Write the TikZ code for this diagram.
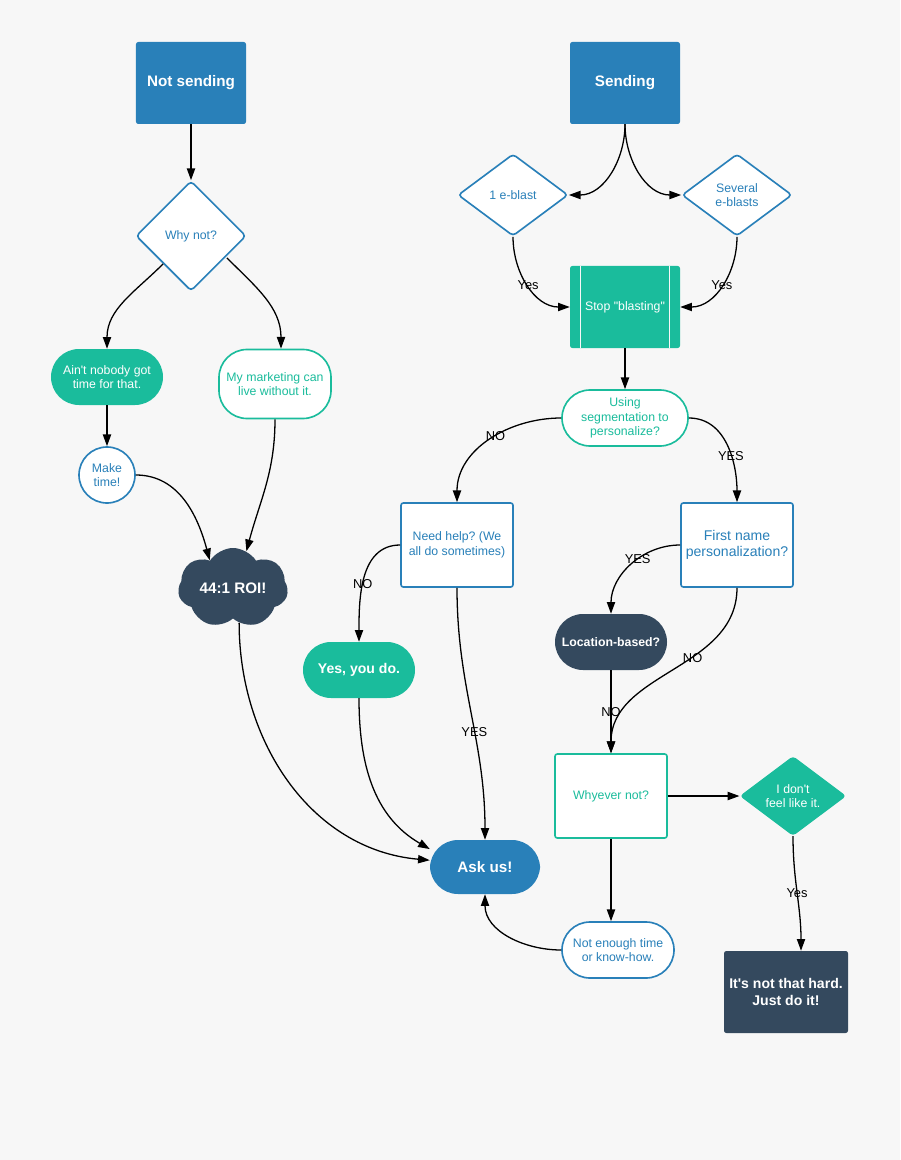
\documentclass[tikz,border=0pt]{standalone}
\usepackage{fontspec}
\setmainfont{Liberation Sans}[Ligatures=TeXOff]
\usetikzlibrary{shapes.geometric,shapes.symbols,arrows.meta}
\definecolor{lcblue}{HTML}{2980B9}
\definecolor{lcteal}{HTML}{1ABC9C}
\definecolor{lcdark}{HTML}{34495E}
\definecolor{lcbg}{HTML}{F7F7F7}
\frenchspacing

\begin{document}
\begin{tikzpicture}[x=0.03cm,y=-0.03cm,
  every node/.style={align=center, font=\fontsize{10.5}{12.6}\selectfont},
  heading/.style={font=\fontsize{13}{15.6}\selectfont\bfseries},
  squarebox/.style={rectangle, rounded corners=2pt, minimum width=3.3cm, minimum height=2.46cm},
  pill/.style={rectangle, rounded corners=0.84cm, minimum width=3.36cm, minimum height=1.68cm},
  decision/.style={diamond, rounded corners=3pt, inner sep=0pt, minimum width=3.3cm},
  boxfill/.style={fill=#1, text=white},
  boxline/.style={draw=#1, fill=white, text=#1, line width=1.4pt},
  flow/.style={-{Triangle[length=10pt,width=7pt]}, line width=1.1pt},
  lbl/.style={font=\fontsize{11}{13}\selectfont, text=black, inner sep=1pt}]
  \fill[lcbg] (0,0) rectangle (900,1160);

  \node[squarebox, boxfill=lcblue, heading] (notsend) at (191,83) {Not sending};
  \node[squarebox, boxfill=lcblue, heading] (send) at (625,83) {Sending};
  \node[decision, boxline=lcblue, minimum height=3.3cm] (whynot) at (191,236) {Why not?};
  \node[decision, boxline=lcblue, minimum height=2.46cm] (one) at (513,195) {1 e-blast};
  \node[decision, boxline=lcblue, minimum height=2.46cm] (several) at (737,195) {Several\\e-blasts};
  \node[squarebox, boxfill=lcteal] (stop) at (625,307) {Stop "blasting"};
  \draw[lcbg, line width=1.2pt] ([xshift=0.33cm]stop.north west) -- ([xshift=0.33cm]stop.south west)
    ([xshift=-0.33cm]stop.north east) -- ([xshift=-0.33cm]stop.south east);
  \node[pill, boxline=lcteal, minimum width=3.78cm] (seg) at (625,418) {Using\\segmentation to\\personalize?};
  \node[pill, boxfill=lcteal] (nobody) at (107,377) {Ain't nobody got\\time for that.};
  \node[pill, boxline=lcteal, minimum height=2.07cm] (mkt) at (275,384) {My marketing can\\live without it.};
  \node[circle, boxline=lcblue, minimum size=1.68cm, inner sep=0pt] (make) at (107,475) {Make\\time!};
  \node[cloud, cloud puffs=7, cloud puff arc=115, cloud ignores aspect, fill=lcdark, text=white, heading,
    minimum width=3.3cm, minimum height=2.4cm] (roi) at (233,588) {44:1 ROI!};
  \node[squarebox, boxline=lcblue, minimum width=3.36cm, minimum height=2.52cm] (needhelp) at (457,545) {Need help? (We\\all do sometimes)};
  \node[squarebox, boxline=lcblue, minimum width=3.36cm, minimum height=2.52cm, font=\fontsize{12}{14}\selectfont] (firstname) at (737,545) {First name\\personalization?};
  \node[pill, boxfill=lcdark, font=\fontsize{10.5}{12.6}\selectfont\bfseries] (location) at (611,642) {Location-based?};
  \node[pill, boxfill=lcteal, font=\fontsize{12}{14}\selectfont\bfseries] (yesdo) at (359,670) {Yes, you do.};
  \node[squarebox, boxline=lcteal, minimum width=3.36cm, minimum height=2.52cm] (whyever) at (611,796) {Whyever not?};
  \node[decision, boxfill=lcteal, minimum width=3.2cm, minimum height=2.4cm] (dont) at (793,796) {I don't\\feel like it.};
  \node[pill, boxfill=lcblue, heading, minimum width=3.3cm, minimum height=1.62cm] (ask) at (485,867) {Ask us!};
  \node[pill, boxline=lcblue] (notenough) at (618,950) {Not enough time\\or know-how.};
  \node[squarebox, boxfill=lcdark, font=\fontsize{12}{14}\selectfont\bfseries, minimum width=3.72cm] (hard) at (786,992) {It's not that hard.\\Just do it!};

  \draw[flow] (notsend) -- (whynot);
  \draw[flow] (whynot.south west) to[out=-135,in=90] (nobody.north);
  \draw[flow] ([shift={(0.24cm,0.18cm)}]whynot.south east) to[out=-45,in=90] ([xshift=0.18cm]mkt.north);
  \draw[flow] (nobody) -- (make);
  \draw[flow] (make.east) to[out=0,in=105] (roi.130);
  \draw[flow] (mkt.south) to[out=-90,in=75] (roi.70);
  \draw[flow] (roi.-80) to[out=-90,in=175] (ask.173);
  \draw[flow] (send.south) to[out=-90,in=0] (one.east);
  \draw[flow] (send.south) to[out=-90,in=180] (several.west);
  \draw[flow] (one.south) to[out=-90,in=180] node[lbl] (yes1) {Yes} (stop.west);
  \draw[flow] (several.south) to[out=-90,in=0] node[lbl] (yes2) {Yes} (stop.east);
  \draw[flow] (stop) -- (seg);
  \draw[flow] (seg.west) to[out=180,in=90] node[lbl,pos=0.45] (no1) {NO} (needhelp.north);
  \draw[flow] (seg.east) to[out=0,in=90] node[lbl,pos=0.6] (yes3) {YES} (firstname.north);
  \draw[flow] (needhelp.west) to[out=180,in=90] node[lbl,pos=0.55] (no2) {NO} (yesdo.north);
  \draw[flow] (needhelp.south) to[out=-90,in=90] node[lbl,pos=0.58] (yes4) {YES} (ask.north);
  \draw[flow] (firstname.west) to[out=180,in=90] node[lbl,pos=0.42] (yes5) {YES} (location.north);
  \draw[flow] (firstname.south) to[out=-90,in=90] node[lbl,pos=0.4] (no3) {NO} (whyever.north);
  \draw[flow] (location) -- node[lbl] (no4) {NO} (whyever);
  \draw[flow] (yesdo.south) to[out=-90,in=150] (ask.162);
  \draw[flow] (whyever) -- (dont);
  \draw[flow] (whyever.south) -- (whyever.south |- notenough.north);
  \draw[flow] (dont.south) to[out=-90,in=90] node[lbl] (yes6) {Yes} (hard.70);
  \draw[flow] (notenough.west) to[out=180,in=-90] (ask.south);
\end{tikzpicture}
\end{document}
